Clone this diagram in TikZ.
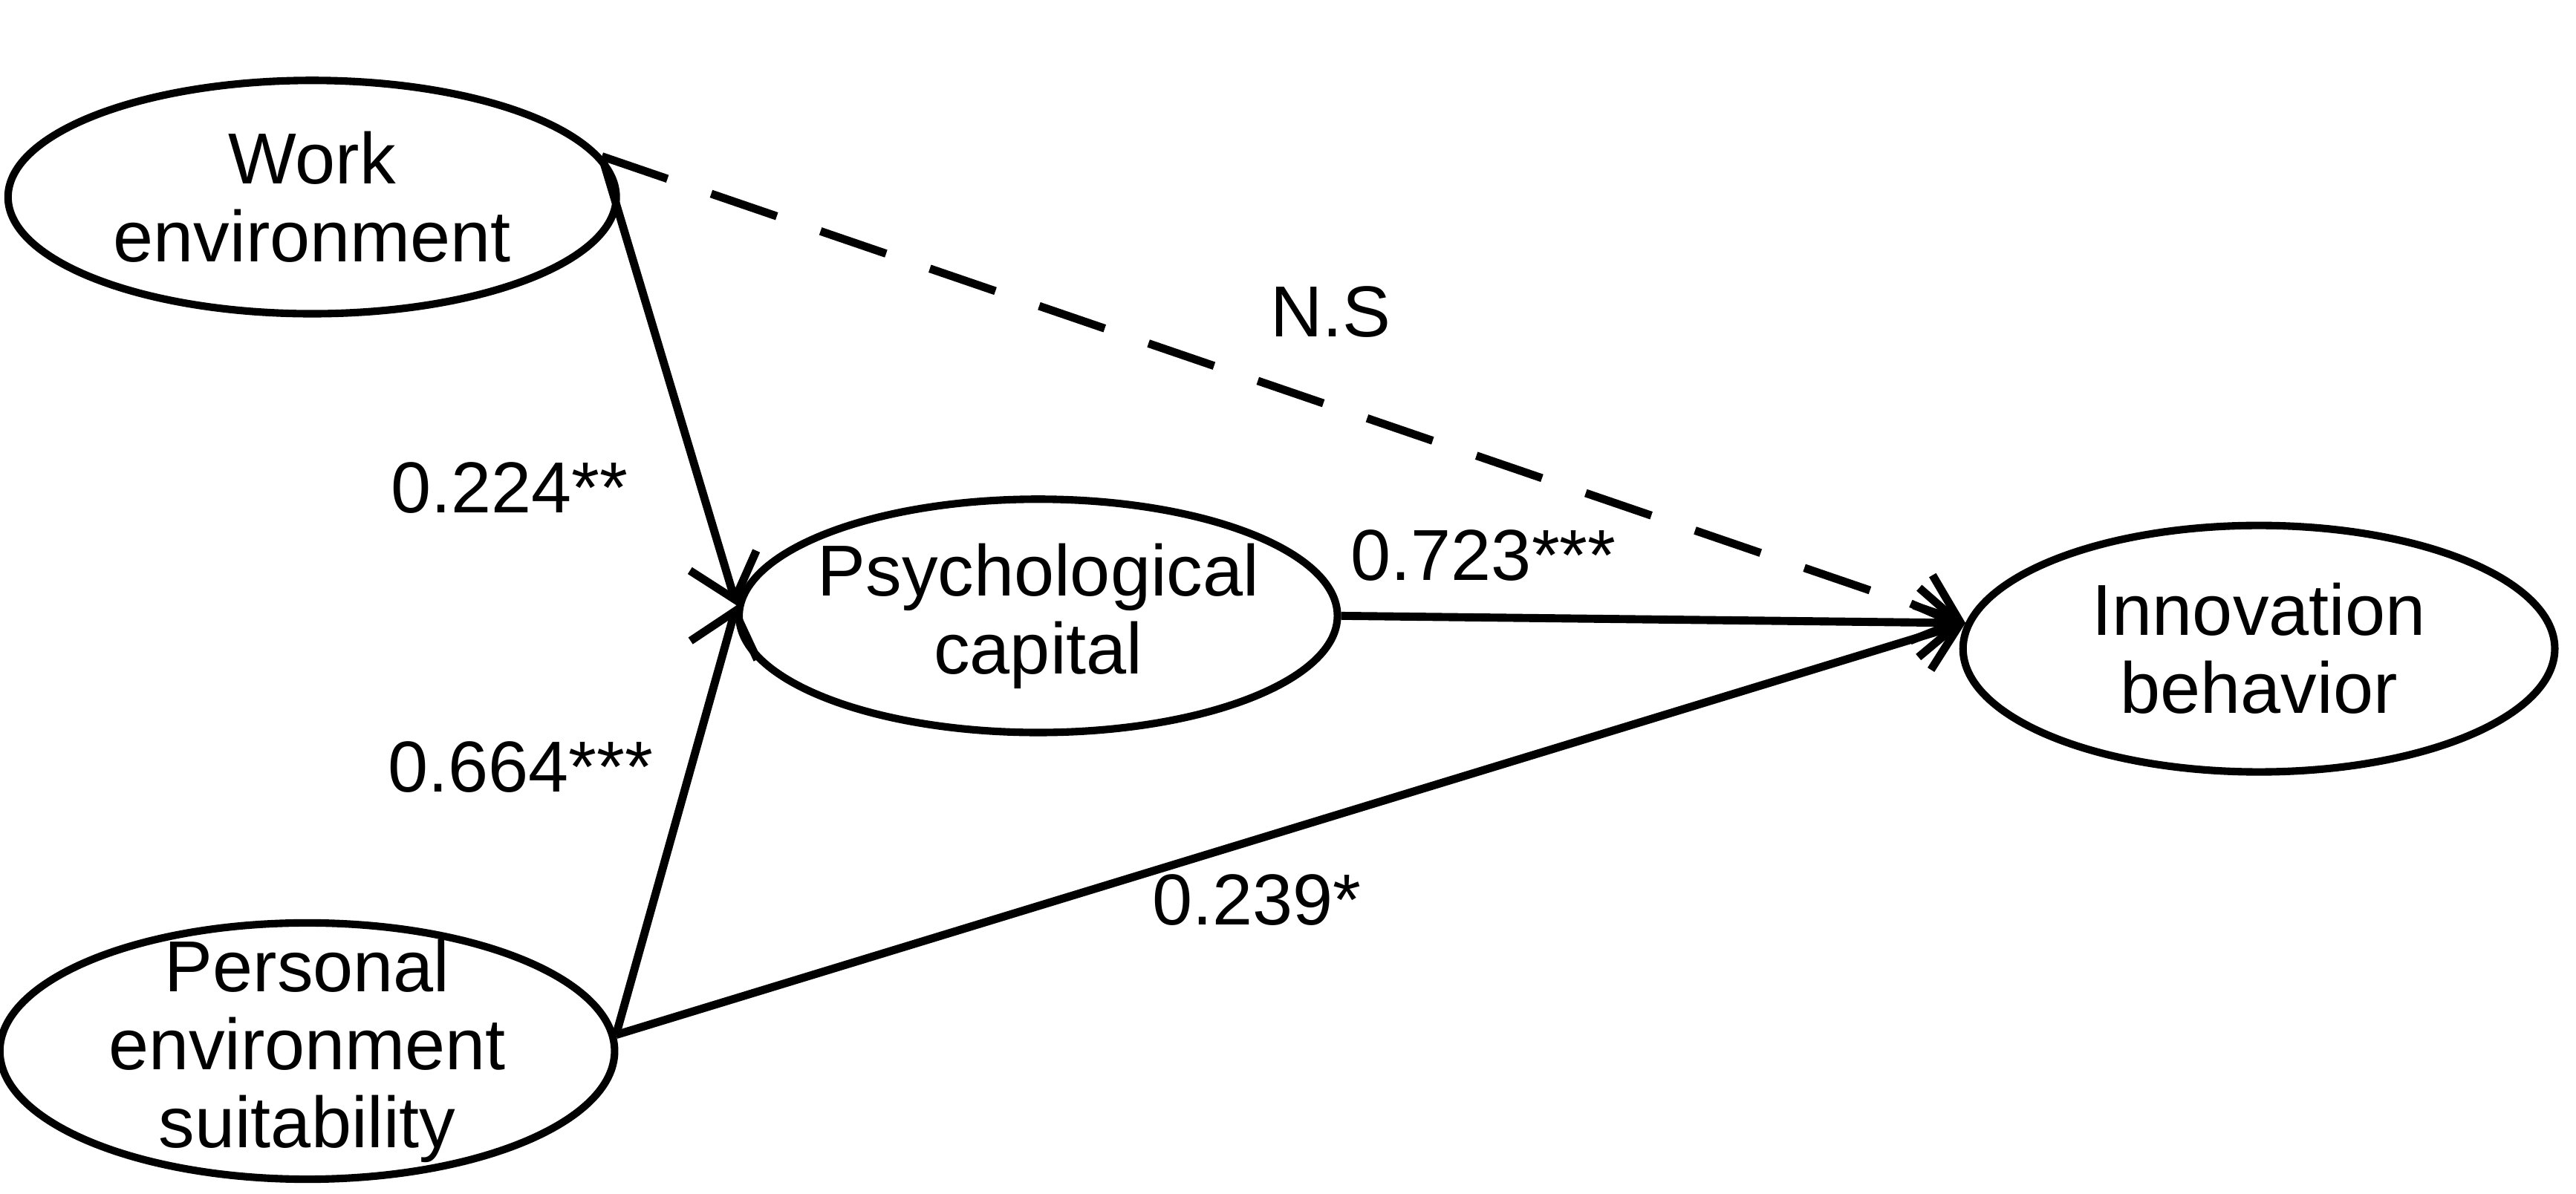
\documentclass[tikz,border=0pt]{standalone}
\usepackage{fontspec}
\setmainfont{Liberation Sans}
\usetikzlibrary{shapes.geometric,arrows.meta}
\begin{document}
\begin{tikzpicture}[x=0.01cm,y=0.01cm,
  lat/.style={ellipse,draw,line width=1.3pt,inner sep=0pt},
  txt/.style={align=center,font=\fontsize{12.5}{13.5}\selectfont},
  path/.style={line width=1.4pt,-{Straight Barb[length=7pt,width=12pt,line width=1.4pt]}},
  lab/.style={font=\fontsize{12.5}{14.5}\selectfont}]
\useasboundingbox (0,0) rectangle (1568,727);
\node[lat,minimum width=3.7cm,minimum height=1.42cm] (work) at (190,607) {};
\node[txt] (workt) at (work.center) {Work\\environment};
\node[lat,minimum width=3.64cm,minimum height=1.42cm] (psy) at (632,352) {};
\node[txt] (psyt) at (psy.center) {Psychological\\capital};
\node[lat,minimum width=3.6cm,minimum height=1.5cm] (inn) at (1375,332) {};
\node[txt] (innt) at (inn.center) {Innovation\\behavior};
\node[lat,minimum width=3.74cm,minimum height=1.56cm] (per) at (187,87) {};
\node[txt] (pert) at (per.center) {Personal\\environment\\suitability};
\draw[path] (work.8) -- (psy.178);
\draw[path] (per.3) -- (psy.178);
\draw[path,dash pattern=on 12pt off 8pt] (work.8) -- (inn.175);
\draw[path] (psy.east) -- (inn.175);
\draw[path] (per.3) -- (inn.175);
\node[lab] (ns) at (810,537) {N.S};
\node[lab] (a) at (310,430) {0.224**};
\node[lab] (b) at (317,260) {0.664***};
\node[lab] (c) at (903,389) {0.723***};
\node[lab] (d) at (765,179) {0.239*};
\end{tikzpicture}
\end{document}
